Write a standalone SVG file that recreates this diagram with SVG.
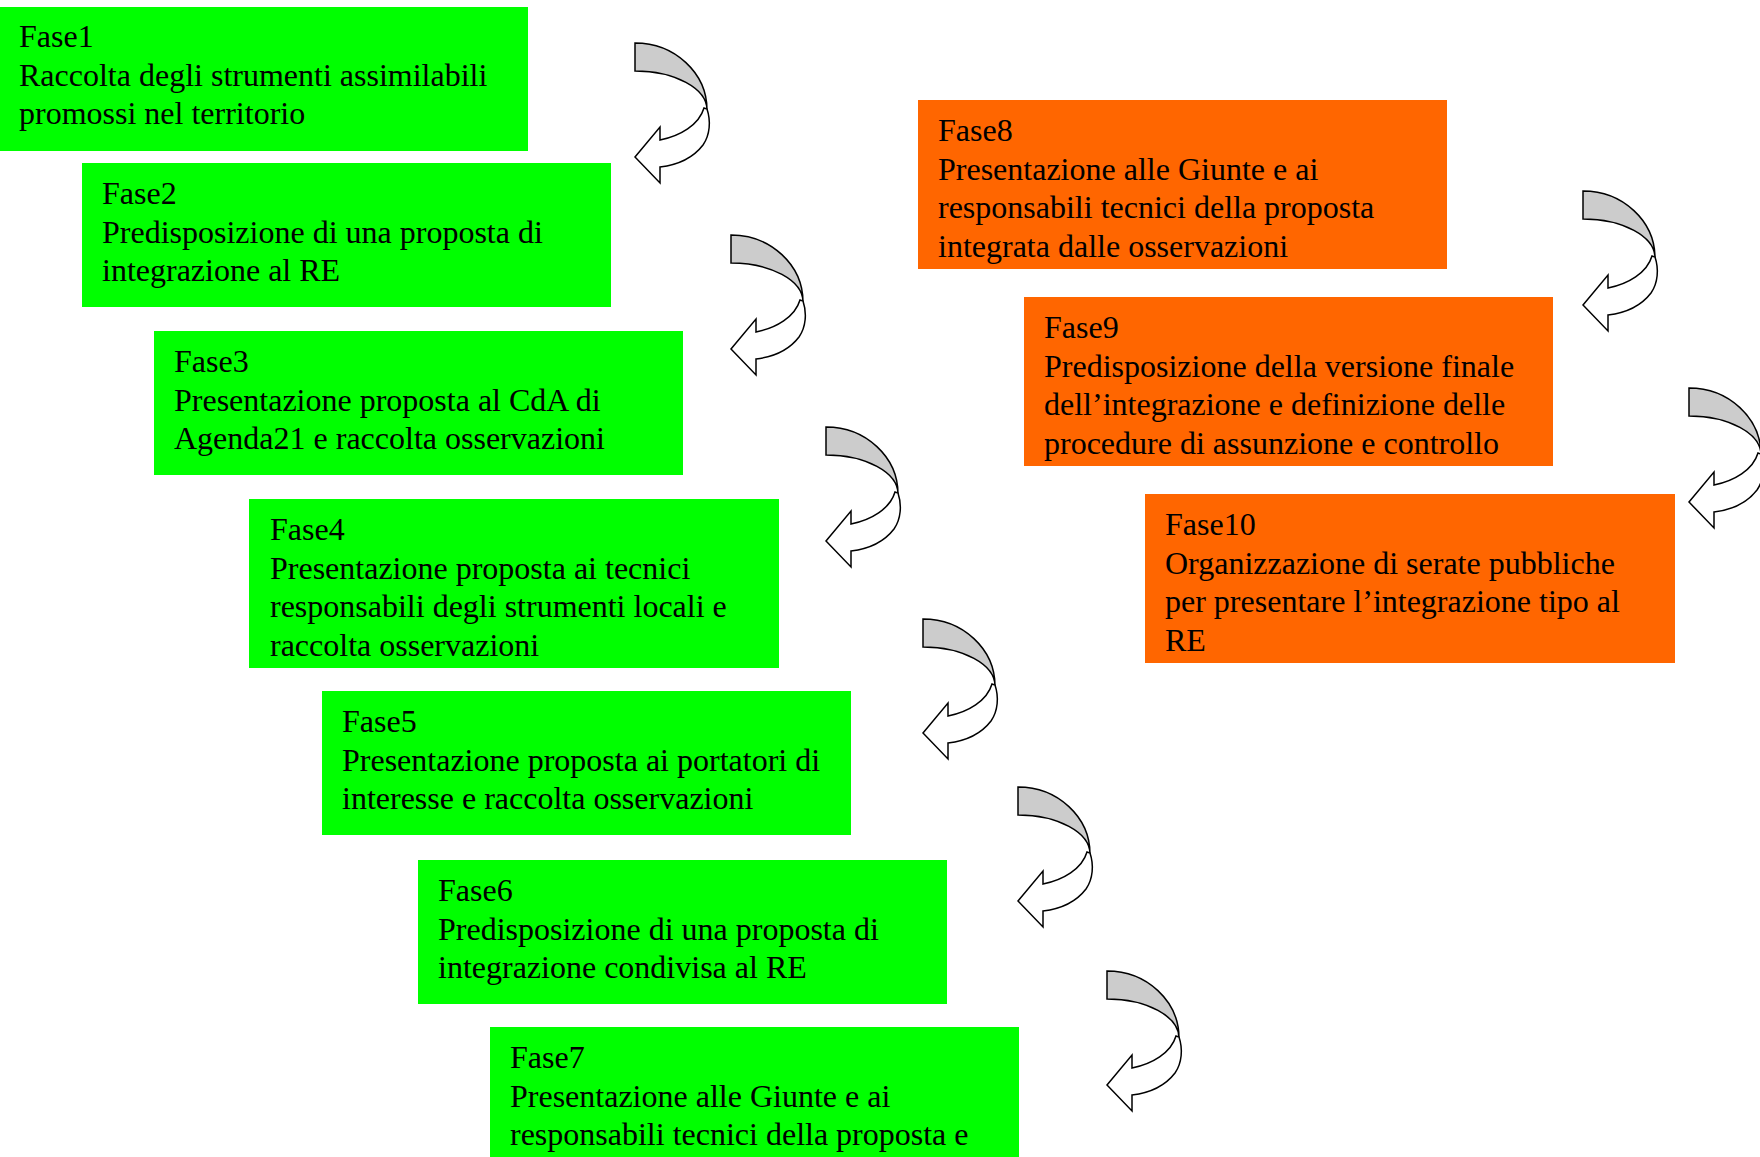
<svg xmlns="http://www.w3.org/2000/svg" xmlns:xlink="http://www.w3.org/1999/xlink" width="1760" height="1157" viewBox="0 0 1760 1157">
<style>
.g{fill:#00ff00}
.o{fill:#ff6600}
.t{font-family:"Liberation Serif","Times New Roman",serif;font-size:32px;fill:#000}
.back{fill:#cccccc;stroke:#000;stroke-width:1.5}
.front{fill:#ffffff;stroke:#000;stroke-width:1.5}
</style>
<defs>
<g id="carrow">
<path class="back" d="M0,0 A72,67 0 0 1 72,67 A72,39 0 0 0 0,28 Z"/>
<path class="front" d="M72,66 C76,78 75,92 68,102 C58,115 42,122 25,124 L25,140 L0,114 L25,84 L25,97 C45,93 64,82 69,65 Z"/>
</g>
</defs>
<rect width="1760" height="1157" fill="#fff"/>
<g id="fase1">
<rect class="g" x="0" y="7" width="528" height="144"/>
<text class="t"><tspan x="19" y="47">Fase1</tspan><tspan x="19" y="85.5">Raccolta degli strumenti assimilabili</tspan><tspan x="19" y="124">promossi nel territorio</tspan></text>
</g>
<g id="fase2">
<rect class="g" x="82" y="163" width="529" height="144"/>
<text class="t"><tspan x="102" y="204">Fase2</tspan><tspan x="102" y="242.5">Predisposizione di una proposta di</tspan><tspan x="102" y="281">integrazione al RE</tspan></text>
</g>
<g id="fase3">
<rect class="g" x="154" y="331" width="529" height="144"/>
<text class="t"><tspan x="174" y="372">Fase3</tspan><tspan x="174" y="410.5">Presentazione proposta al CdA di</tspan><tspan x="174" y="449">Agenda21 e raccolta osservazioni</tspan></text>
</g>
<g id="fase4">
<rect class="g" x="249" y="499" width="530" height="169"/>
<text class="t"><tspan x="270" y="540">Fase4</tspan><tspan x="270" y="578.5">Presentazione proposta ai tecnici</tspan><tspan x="270" y="617">responsabili degli strumenti locali e</tspan><tspan x="270" y="655.5">raccolta osservazioni</tspan></text>
</g>
<g id="fase5">
<rect class="g" x="322" y="691" width="529" height="144"/>
<text class="t"><tspan x="342" y="732">Fase5</tspan><tspan x="342" y="770.5">Presentazione proposta ai portatori di</tspan><tspan x="342" y="809">interesse e raccolta osservazioni</tspan></text>
</g>
<g id="fase6">
<rect class="g" x="418" y="860" width="529" height="144"/>
<text class="t"><tspan x="438" y="901">Fase6</tspan><tspan x="438" y="939.5">Predisposizione di una proposta di</tspan><tspan x="438" y="978">integrazione condivisa al RE</tspan></text>
</g>
<g id="fase7">
<rect class="g" x="490" y="1027" width="529" height="144"/>
<text class="t"><tspan x="510" y="1068">Fase7</tspan><tspan x="510" y="1106.5">Presentazione alle Giunte e ai</tspan><tspan x="510" y="1145">responsabili tecnici della proposta e</tspan></text>
</g>
<g id="fase8">
<rect class="o" x="918" y="100" width="529" height="169"/>
<text class="t"><tspan x="938" y="141">Fase8</tspan><tspan x="938" y="179.5">Presentazione alle Giunte e ai</tspan><tspan x="938" y="218">responsabili tecnici della proposta</tspan><tspan x="938" y="256.5">integrata dalle osservazioni</tspan></text>
</g>
<g id="fase9">
<rect class="o" x="1024" y="297" width="529" height="169"/>
<text class="t"><tspan x="1044" y="338">Fase9</tspan><tspan x="1044" y="376.5">Predisposizione della versione finale</tspan><tspan x="1044" y="415">dell’integrazione e definizione delle</tspan><tspan x="1044" y="453.5">procedure di assunzione e controllo</tspan></text>
</g>
<g id="fase10">
<rect class="o" x="1145" y="494" width="530" height="169"/>
<text class="t"><tspan x="1165" y="535">Fase10</tspan><tspan x="1165" y="573.5">Organizzazione di serate pubbliche</tspan><tspan x="1165" y="612">per presentare l’integrazione tipo al</tspan><tspan x="1165" y="650.5">RE</tspan></text>
</g>
<g id="connectors">
<use xlink:href="#carrow" href="#carrow" x="635" y="43"/>
<use xlink:href="#carrow" href="#carrow" x="731" y="235"/>
<use xlink:href="#carrow" href="#carrow" x="826" y="427"/>
<use xlink:href="#carrow" href="#carrow" x="923" y="619"/>
<use xlink:href="#carrow" href="#carrow" x="1018" y="787"/>
<use xlink:href="#carrow" href="#carrow" x="1107" y="971"/>
<use xlink:href="#carrow" href="#carrow" x="1583" y="191"/>
<use xlink:href="#carrow" href="#carrow" x="1689" y="388"/>
</g>
</svg>
